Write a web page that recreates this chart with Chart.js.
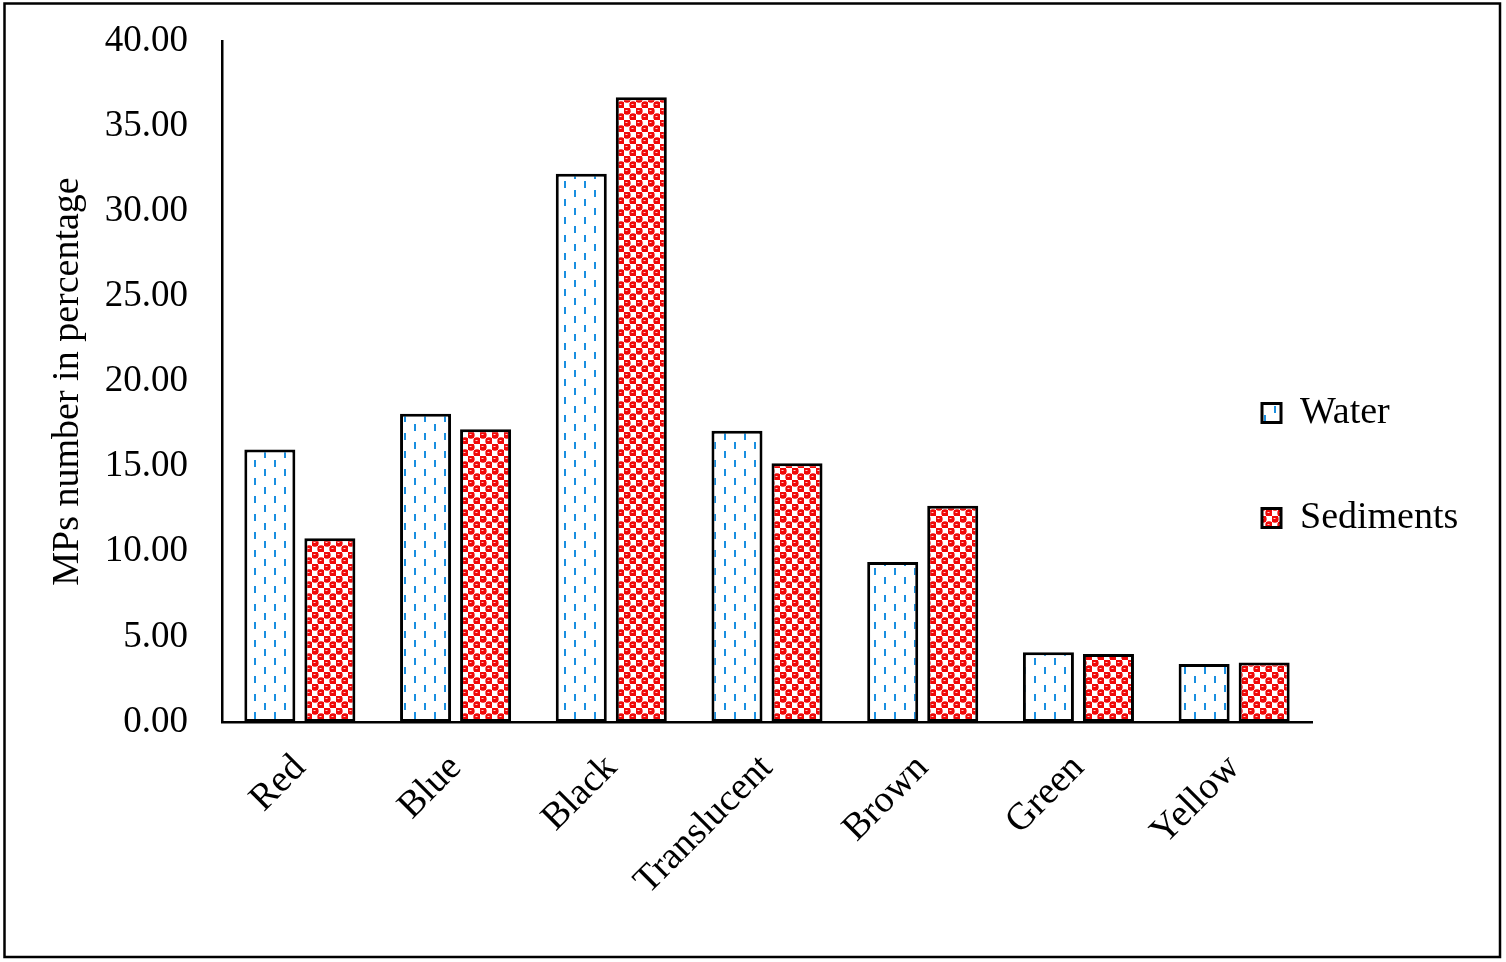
<!DOCTYPE html>
<html>
<head>
<meta charset="utf-8">
<script src="https://cdn.jsdelivr.net/npm/chart.js@4.4.1/dist/chart.umd.min.js"></script>
<style>
html,body{margin:0;padding:0;background:#fff;}
canvas{display:block;background:#fff;}
</style>
</head>
<body>
<canvas id="c" width="1506" height="962"></canvas>
<script>
// ---- data ----
const categories = ['Red', 'Blue', 'Black', 'Translucent', 'Brown', 'Green', 'Yellow'];
const seriesNames = ['Water', 'Sediments'];
const waterValues = [16.0, 18.1, 32.2, 17.1, 9.4, 4.1, 3.4];
const sedimentValues = [10.8, 17.2, 36.7, 15.2, 12.7, 4.0, 3.5];
const yMin = 0;
const yMax = 40;
const yStep = 5;
const yTitle = 'MPs number in percentage';

// ---- patterns ----
const canvas = document.getElementById('c');
const ctx = canvas.getContext('2d');

function makeWaterPattern() {
  const t = document.createElement('canvas');
  t.width = 20; t.height = 18;
  const g = t.getContext('2d');
  g.fillStyle = '#ffffff';
  g.fillRect(0, 0, 20, 18);
  g.fillStyle = '#1a8fe0';
  g.fillRect(4, 1, 2, 7);
  g.fillRect(14, 10, 2, 7);
  return ctx.createPattern(t, 'repeat');
}
function makeSedimentPattern() {
  const t = document.createElement('canvas');
  t.width = 12; t.height = 12;
  const g = t.getContext('2d');
  g.fillStyle = '#ffffff';
  g.fillRect(0, 0, 12, 12);
  g.fillStyle = '#f00808';
  g.fillRect(0, 0, 6, 6);
  g.fillRect(6, 6, 6, 6);
  const pts = [[3, 3], [9, 9]];
  for (const [x, y] of pts) {
    g.beginPath();
    g.arc(x, y, 3.7, 0, Math.PI * 2);
    g.fill();
  }
  g.fillStyle = '#ffd0d0';
  g.fillRect(1.5, 2, 2, 1);
  g.fillRect(7.5, 8, 2, 1);
  return ctx.createPattern(t, 'repeat');
}

const FONT = "'Liberation Serif', 'Times New Roman', serif";

const frameAndLegend = {
  id: 'frameAndLegend',
  beforeDraw(chart) {
    const lg = chart.legend;
    if (lg) {
      const pad = lg.options.labels.padding;
      lg.left = 1262 - pad;
      lg.right = 1506;
      lg.top = 327;
      lg.bottom = 900;
      lg.width = lg.right - lg.left;
      lg.height = lg.bottom - lg.top;
    }
  },
  afterDraw(chart) {
    const c = chart.ctx;
    c.save();
    c.strokeStyle = '#000';
    c.lineWidth = 2.5;
    c.strokeRect(4.5, 3.5, 1495.5, 953.5);
    c.restore();
  }
};

new Chart(ctx, {
  type: 'bar',
  data: {
    labels: categories,
    datasets: [
      {
        label: seriesNames[0],
        data: waterValues,
        backgroundColor: makeWaterPattern(),
        borderColor: '#000000',
        borderWidth: 3,
        borderSkipped: false
      },
      {
        label: seriesNames[1],
        data: sedimentValues,
        backgroundColor: makeSedimentPattern(),
        borderColor: '#000000',
        borderWidth: 3,
        borderSkipped: false
      }
    ]
  },
  options: {
    responsive: false,
    animation: false,
    devicePixelRatio: 1,
    categoryPercentage: 0.771,
    barPercentage: 0.85,
    layout: { padding: { top: 41, right: 44, bottom: 0, left: 0 } },
    plugins: {
      tooltip: { enabled: false },
      title: { display: false },
      legend: {
        display: true,
        position: 'right',
        align: 'start',
        maxWidth: 150,
        labels: {
          font: { family: FONT, size: 38 },
          color: '#000',
          boxWidth: 19,
          boxHeight: 19,
          padding: 67
        }
      }
    },
    scales: {
      x: {
        grid: { display: false, drawTicks: false },
        border: { display: true, color: '#000', width: 2.5 },
        ticks: {
          color: '#000',
          font: { family: FONT, size: 38 },
          maxRotation: 45,
          minRotation: 45,
          padding: 24,
          autoSkip: false
        },
        afterFit(scale) { scale.height = 240; }
      },
      y: {
        min: yMin,
        max: yMax,
        grid: { display: false, drawTicks: false },
        border: { display: true, color: '#000', width: 2.5 },
        ticks: {
          stepSize: yStep,
          color: '#000',
          font: { family: FONT, size: 37 },
          padding: 34,
          callback: (v) => Number(v).toFixed(2)
        },
        title: {
          display: true,
          text: yTitle,
          color: '#000',
          font: { family: FONT, size: 38 },
          padding: { top: 45, bottom: 0 }
        },
        afterFit(scale) {
          scale.width = 222;
          scale.paddingTop = 0;
          scale.paddingBottom = 0;
        }
      }
    }
  },
  plugins: [frameAndLegend]
});
</script>
</body>
</html>
